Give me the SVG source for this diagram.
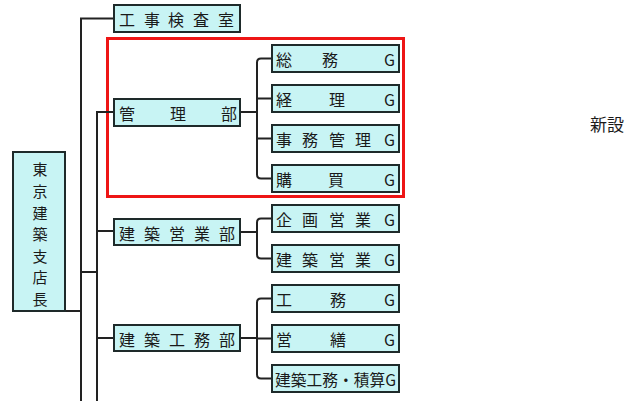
<svg xmlns="http://www.w3.org/2000/svg" width="643" height="401" viewBox="0 0 643 401">
<style>
.box{fill:#c8f4f4;stroke:#1e2a2a;stroke-width:2}
.t{font-family:"Noto Sans CJK JP","Noto Sans",sans-serif;font-size:16px;fill:#1a1a1a;dominant-baseline:central}
.v{font-family:"Noto Sans CJK JP","Noto Sans",sans-serif;font-size:15px;fill:#1a1a1a;text-anchor:middle;dominant-baseline:central}
.ln{fill:none;stroke:#222;stroke-width:2}
</style>
<rect width="643" height="401" fill="#fff"/>
<rect id="frame" x="107.5" y="38.5" width="296" height="158" fill="none" stroke="#ee1515" stroke-width="3"/>
<g id="connectors" class="ln">
<path d="M114 18.5H81V401"/>
<path d="M65 311H81"/>
<path d="M81 272H97"/>
<path d="M114 112H97V401"/>
<path d="M114 231H97"/>
<path d="M114 338H97"/>
<path d="M240 112H257"/>
<path d="M272 58.5H261Q257 58.5 257 62.5V174.5Q257 178.5 261 178.5H272"/>
<path d="M257 98.5H272M257 138.5H272"/>
<path d="M240 232H257"/>
<path d="M272 218.5H261Q257 218.5 257 222.5V254.5Q257 258.5 261 258.5H272"/>
<path d="M240 338H257"/>
<path d="M272 298.5H261Q257 298.5 257 302.5V374.5Q257 378.5 261 378.5H272"/>
<path d="M257 338.5H272"/>
</g>
<g id="shitencho"><rect class="box" x="13" y="152" width="52" height="159"/>
<text class="v" x="40"><tspan x="40" y="168">東</tspan><tspan x="40" y="190">京</tspan><tspan x="40" y="212">建</tspan><tspan x="40" y="233">築</tspan><tspan x="40" y="255">支</tspan><tspan x="40" y="276">店</tspan><tspan x="40" y="298">長</tspan></text></g>
<g id="kojikensa"><rect class="box" x="114" y="5" width="126" height="27"/><text class="t" x="119 144 168 193 218" y="19">工事検査室</text></g>
<g id="kanri"><rect class="box" x="114" y="99" width="126" height="27"/><text class="t" x="119 170 221" y="113">管理部</text></g>
<g id="kenchikueigyo"><rect class="box" x="114" y="219" width="126" height="26"/><text class="t" x="119 144 169 194 219" y="232.5">建築営業部</text></g>
<g id="kenchikukomu"><rect class="box" x="114" y="325" width="126" height="26"/><text class="t" x="119 144 169 194 219" y="338.5">建築工務部</text></g>
<g id="somu"><rect class="box" x="272" y="45" width="127" height="27"/><text class="t" x="276 322 384" y="59">総務G</text></g>
<g id="keiri"><rect class="box" x="272" y="85" width="127" height="27"/><text class="t" x="276 329 384" y="99">経理G</text></g>
<g id="jimukanri"><rect class="box" x="272" y="125" width="127" height="27"/><text class="t" x="276 302 329 355 384" y="139">事務管理G</text></g>
<g id="kobai"><rect class="box" x="272" y="165" width="127" height="27"/><text class="t" x="276 328 384" y="179">購買G</text></g>
<g id="kikakueigyo"><rect class="box" x="272" y="205" width="127" height="27"/><text class="t" x="276 302 329 355 384" y="219">企画営業G</text></g>
<g id="kenchikueigyoG"><rect class="box" x="272" y="245" width="127" height="27"/><text class="t" x="276 302 329 355 384" y="259">建築営業G</text></g>
<g id="komu"><rect class="box" x="272" y="285" width="127" height="27"/><text class="t" x="276 330 384" y="299">工務G</text></g>
<g id="eizen"><rect class="box" x="272" y="325" width="127" height="27"/><text class="t" x="276 330 384" y="339">営繕G</text></g>
<g id="sekisan"><rect class="box" x="272" y="365" width="127" height="27"/><text class="t" x="275" y="379" textLength="121" lengthAdjust="spacingAndGlyphs">建築工務・積算G</text></g>
<text id="shinsetsu" x="607" y="123" font-family="'Noto Sans CJK JP',sans-serif" font-size="17" fill="#1a1a1a" text-anchor="middle" dominant-baseline="central">新設</text>
</svg>
